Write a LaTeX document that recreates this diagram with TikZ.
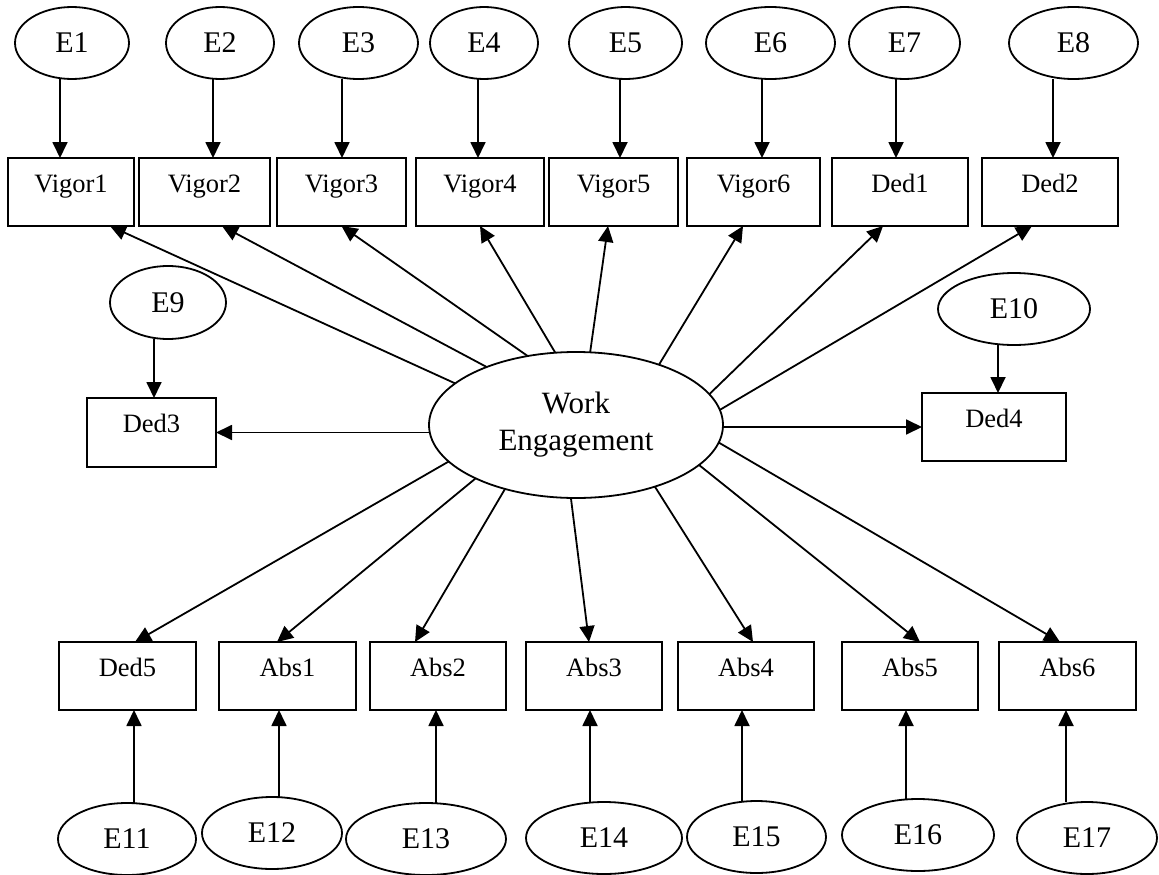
\documentclass[tikz,border=0pt]{standalone}
\usepackage{fontspec}
\setmainfont{Liberation Serif}
\usetikzlibrary{shapes.geometric,arrows.meta}
\begin{document}
\begin{tikzpicture}[x=1pt,y=-1pt,
  err/.style={ellipse,draw,line width=1.8pt,inner sep=0pt,outer sep=0pt,
    minimum height=72pt,font=\fontsize{30}{36}\selectfont},
  ind/.style={rectangle,draw,line width=1.8pt,inner sep=0pt,outer sep=0pt,
    minimum height=68pt,text height=10pt,text depth=10pt,
    font=\fontsize{26.5}{31}\selectfont},
  factor/.style={ellipse,draw,line width=1.8pt,inner sep=0pt,outer sep=0pt,
    minimum width=294pt,minimum height=146pt,align=center,
    font=\fontsize{31}{37}\selectfont},
  arr/.style={line width=1.8pt,-{Triangle[length=16pt,width=15pt]}}]
\path[use as bounding box] (0,0) rectangle (1159,875);

% latent factor
\node[factor] (WE) at (576,425) {Work\\Engagement};

% top indicators
\node[ind,minimum width=126pt] (V1) at (71,192)    {Vigor1};
\node[ind,minimum width=131pt] (V2) at (204.5,192) {Vigor2};
\node[ind,minimum width=129pt] (V3) at (341.5,192) {Vigor3};
\node[ind,minimum width=128pt] (V4) at (480,192)   {Vigor4};
\node[ind,minimum width=129pt] (V5) at (613.5,192) {Vigor5};
\node[ind,minimum width=133pt] (V6) at (753.5,192) {Vigor6};
\node[ind,minimum width=136pt] (D1) at (900,192)   {Ded1};
\node[ind,minimum width=136pt] (D2) at (1050,192)  {Ded2};

% side indicators
\node[ind,minimum width=129pt,minimum height=69pt] (D3) at (151.5,432.5) {Ded3};
\node[ind,minimum width=144pt] (D4) at (994,427) {Ded4};

% bottom indicators
\node[ind,minimum width=137pt] (D5) at (127.5,676) {Ded5};
\node[ind,minimum width=137pt] (A1) at (287.5,676) {Abs1};
\node[ind,minimum width=136pt] (A2) at (438,676)   {Abs2};
\node[ind,minimum width=136pt] (A3) at (594,676)   {Abs3};
\node[ind,minimum width=136pt] (A4) at (746,676)   {Abs4};
\node[ind,minimum width=136pt] (A5) at (910,676)   {Abs5};
\node[ind,minimum width=137pt] (A6) at (1067.5,676){Abs6};

% error terms, top
\node[err,minimum width=114pt] (E1) at (72,43)     {E1};
\node[err,minimum width=108pt] (E2) at (220,43)    {E2};
\node[err,minimum width=119pt] (E3) at (358.5,43)  {E3};
\node[err,minimum width=108pt] (E4) at (484,43)    {E4};
\node[err,minimum width=113pt] (E5) at (625.5,43)  {E5};
\node[err,minimum width=129pt] (E6) at (770.5,43)  {E6};
\node[err,minimum width=111pt] (E7) at (904.5,43)  {E7};
\node[err,minimum width=129pt] (E8) at (1073.5,43) {E8};

% error terms, sides
\node[err,minimum width=116pt,minimum height=73pt] (E9) at (168,302.5) {E9};
\node[err,minimum width=152pt] (E10) at (1014,309) {E10};

% error terms, bottom
\node[err,minimum width=138pt] (E11) at (127,839)  {E11};
\node[err,minimum width=140pt] (E12) at (272,833)  {E12};
\node[err,minimum width=160pt] (E13) at (426,839)  {E13};
\node[err,minimum width=156pt] (E14) at (604,838)  {E14};
\node[err,minimum width=139pt] (E15) at (756.5,837){E15};
\node[err,minimum width=152pt] (E16) at (918,835)  {E16};
\node[err,minimum width=140pt] (E17) at (1087,838) {E17};

% loadings
\draw[arr] (WE.161) -- ([xshift=39pt]V1.south);
\draw[arr] (WE.147) -- ([xshift=17.5pt]V2.south);
\draw[arr] (WE.125) -- (V3.south);
\draw[arr] (WE.106) -- (V4.south);
\draw[arr] (WE.79)  -- ([xshift=-5.5pt]V5.south);
\draw[arr] (WE.36)  -- ([xshift=-10.5pt]V6.south);
\draw[arr] (WE.13)  -- ([xshift=-17pt]D1.south);
\draw[arr] (WE.6)   -- ([xshift=-18pt]D2.south);
\draw[arr] (WE.west |- D3.east) -- (D3.east);
\draw[arr] (WE.east |- D4.west) -- (D4.west);
\draw[arr] (WE.196) -- ([xshift=7.5pt]D5.north);
\draw[arr] (WE.208) -- ([xshift=-10.5pt]A1.north);
\draw[arr] (WE.222) -- ([xshift=-23pt]A2.north);
\draw[arr] (WE.266) -- ([xshift=-5pt]A3.north);
\draw[arr] (WE.322) -- ([xshift=7pt]A4.north);
\draw[arr] (WE.342) -- ([xshift=10pt]A5.north);
\draw[arr] (WE.353) -- ([xshift=-7.5pt]A6.north);

% error paths
\draw[arr] ([xshift=-12pt]E1.south)   -- ([xshift=-11pt]V1.north);
\draw[arr] ([xshift=-7pt]E2.south)    -- ([xshift=8.5pt]V2.north);
\draw[arr] ([xshift=-16.5pt]E3.south) -- ([xshift=0.5pt]V3.north);
\draw[arr] ([xshift=-6pt]E4.south)    -- ([xshift=-2pt]V4.north);
\draw[arr] ([xshift=-5.5pt]E5.south)  -- ([xshift=6.5pt]V5.north);
\draw[arr] ([xshift=-8.5pt]E6.south)  -- ([xshift=8.5pt]V6.north);
\draw[arr] ([xshift=-8.5pt]E7.south)  -- ([xshift=-4pt]D1.north);
\draw[arr] ([xshift=-20.5pt]E8.south) -- ([xshift=3pt]D2.north);
\draw[arr] ([xshift=-14pt]E9.south)   -- ([xshift=2.5pt]D3.north);
\draw[arr] ([xshift=-16pt]E10.south)  -- ([xshift=4pt]D4.north);
\draw[arr] ([xshift=7pt]E11.north)    -- ([xshift=6.5pt]D5.south);
\draw[arr] ([xshift=7pt]E12.north)    -- ([xshift=-8.5pt]A1.south);
\draw[arr] ([xshift=10pt]E13.north)   -- ([xshift=-2pt]A2.south);
\draw[arr] ([xshift=-14pt]E14.north)  -- ([xshift=-4pt]A3.south);
\draw[arr] ([xshift=-14.5pt]E15.north)-- ([xshift=-4pt]A4.south);
\draw[arr] ([xshift=-12pt]E16.north)  -- ([xshift=-4pt]A5.south);
\draw[arr] ([xshift=-21pt]E17.north)  -- ([xshift=-1.5pt]A6.south);
\end{tikzpicture}
\end{document}
